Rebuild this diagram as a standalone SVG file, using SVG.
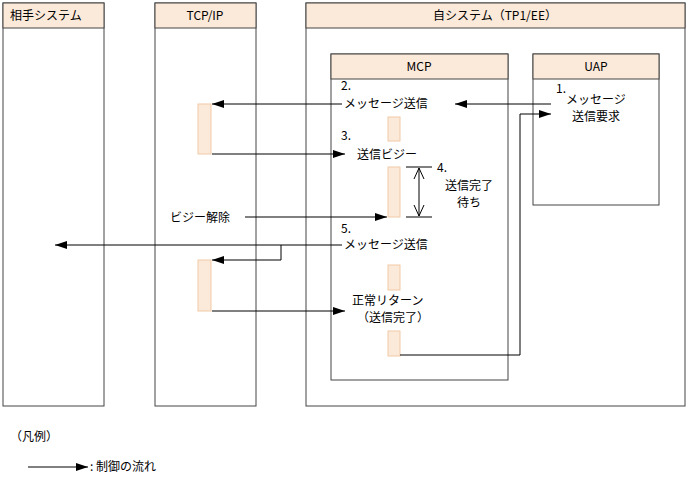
<svg xmlns="http://www.w3.org/2000/svg" width="687" height="480" viewBox="0 0 687 480">
<defs><marker id="a" markerWidth="12" markerHeight="8" refX="12" refY="4" orient="auto" markerUnits="userSpaceOnUse"><path d="M0,0L12,4L0,8z" fill="#000"/></marker>
<marker id="o" markerWidth="12" markerHeight="12" refX="11" refY="6" orient="auto-start-reverse" markerUnits="userSpaceOnUse"><path d="M0,1L11,6L0,11" fill="none" stroke="#000"/></marker></defs>
<style>
text{font-family:"Noto Sans CJK JP","Liberation Sans",sans-serif;font-size:12px;fill:#000}
.f{fill:#fff;stroke:#444}.h{fill:#fbe9d9;stroke:#444}.b{fill:#fbe9d9;stroke:#f2c9a5}
.l{stroke:#000;fill:none}.m{text-anchor:middle}
</style>
<g id="partner"><rect class="f" x="3" y="3" width="101" height="403"/><rect class="h" x="3" y="3" width="101" height="25"/><text x="10" y="20">相手システム</text></g>
<g id="tcpip"><rect class="f" x="155" y="3" width="101" height="403"/><rect class="h" x="155" y="3" width="101" height="25"/><text x="205" y="20" class="m">TCP/IP</text></g>
<g id="self"><rect class="f" x="306" y="3" width="379" height="403"/><rect class="h" x="306" y="3" width="379" height="25"/><text x="495" y="20" class="m">自システム（TP1/EE）</text></g>
<g id="mcp"><rect class="f" x="331" y="54" width="177" height="326"/><rect class="h" x="331" y="54" width="177" height="25"/><text x="419" y="71" class="m">MCP</text></g>
<g id="uap"><rect class="f" x="533" y="54" width="126" height="151"/><rect class="h" x="533" y="54" width="126" height="25"/><text x="596" y="71" class="m">UAP</text></g>
<g id="bars">
<rect class="b" x="198" y="104" width="13" height="50"/><rect class="b" x="198" y="260" width="13" height="51"/>
<rect class="b" x="388" y="117" width="12" height="24"/><rect class="b" x="388" y="167" width="12" height="50"/>
<rect class="b" x="388" y="265" width="12" height="25"/><rect class="b" x="388" y="331" width="12" height="25"/>
</g>
<g id="labels">
<text x="341" y="90">2.</text><text x="344" y="108">メッセージ送信</text>
<text x="341" y="140">3.</text><text x="357" y="159">送信ビジー</text>
<text x="437" y="172">4.</text><text x="469" y="190" class="m">送信完了</text><text x="469" y="207" class="m">待ち</text>
<text x="170" y="222">ビジー解除</text>
<text x="341" y="233">5.</text><text x="344" y="249">メッセージ送信</text>
<text x="352" y="305">正常リターン</text><text x="357" y="322">（送信完了）</text>
<text x="556" y="93">1.</text><text x="596" y="104" class="m">メッセージ</text><text x="596" y="121" class="m">送信要求</text>
<text x="10" y="441">（凡例）</text><text x="90" y="471">: 制御の流れ</text>
</g>
<g id="connectors">
<path class="l" d="M342,104H212" marker-end="url(#a)"/>
<path class="l" d="M551,104H455" marker-end="url(#a)"/>
<path class="l" d="M212,154H345" marker-end="url(#a)"/>
<path class="l" d="M406,167H432M406,217H432"/>
<path class="l" d="M419,168V216" marker-start="url(#o)" marker-end="url(#o)"/>
<path class="l" d="M245,217H387" marker-end="url(#a)"/>
<path class="l" d="M342,245H55" marker-end="url(#a)"/>
<path class="l" d="M281,245V260H212" marker-end="url(#a)"/>
<path class="l" d="M212,311H345" marker-end="url(#a)"/>
<path class="l" d="M400,355H520V114H551" marker-end="url(#a)"/>
<path class="l" d="M28,467H88" marker-end="url(#a)"/>
</g>
</svg>
